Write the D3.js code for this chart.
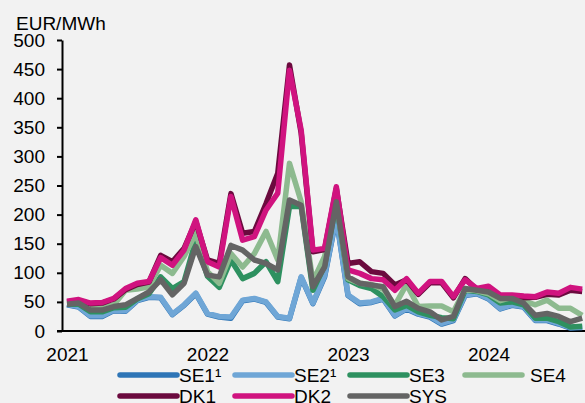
<!DOCTYPE html>
<html>
<head>
<meta charset="utf-8">
<script src="https://cdn.jsdelivr.net/npm/d3@7"></script>
<style>
	body { margin: 0; background: #f2f2f2; }
	svg { display: block; font-family: "Liberation Sans", Arial, sans-serif; }
	.axis text { font-size: 19px; fill: #000; font-family: "Liberation Sans", Arial, sans-serif; }
	.axis path, .axis line { stroke: #000; stroke-width: 2px; }
</style>
</head>
<body>
<div id="chart"></div>
<script>
// monthly averages, Jan 2021 - Sep 2024 (EUR/MWh)
var years = ["2021", "2022", "2023", "2024"];
var yTicks = [0, 50, 100, 150, 200, 250, 300, 350, 400, 450, 500];

var se1 = [45, 41, 25, 25, 35, 34, 52, 58, 57, 28, 44, 64, 29, 24, 22, 52, 55, 49, 24, 21, 92, 47, 93, 194, 61, 47, 49, 55, 26, 38, 29, 24, 12, 18, 61, 64, 55, 38, 44, 41, 18, 18, 12, 5, 6];
var se2 = [46, 42, 26, 26, 36, 35, 53, 59, 58, 29, 45, 65, 30, 25, 24, 53, 56, 50, 25, 22, 93, 48, 95, 196, 62, 48, 50, 56, 27, 39, 30, 25, 13, 19, 62, 65, 56, 39, 45, 42, 19, 19, 13, 6, 7];
var se3 = [46, 46, 33, 33, 40, 41, 55, 64, 93, 73, 85, 156, 94, 75, 122, 90, 99, 119, 85, 214, 214, 70, 112, 220, 88, 78, 73, 59, 36, 44, 33, 27, 23, 21, 70, 68, 62, 48, 50, 45, 22, 22, 16, 7, 8];
var se4 = [48, 50, 38, 40, 45, 70, 72, 76, 113, 99, 128, 168, 102, 82, 133, 110, 133, 171, 122, 288, 222, 85, 128, 225, 90, 82, 80, 72, 44, 80, 42, 43, 43, 33, 72, 69, 64, 52, 58, 52, 45, 53, 39, 39, 27];
var dk1 = [50, 52, 47, 48, 55, 71, 80, 84, 130, 119, 142, 188, 122, 116, 236, 168, 171, 219, 271, 457, 340, 136, 140, 245, 116, 119, 102, 99, 79, 88, 63, 83, 83, 57, 90, 71, 75, 60, 59, 57, 58, 63, 62, 70, 68];
var dk2 = [51, 54, 48, 49, 56, 73, 82, 85, 126, 113, 139, 191, 119, 110, 231, 156, 162, 208, 237, 448, 345, 139, 142, 248, 105, 99, 90, 88, 70, 90, 65, 85, 85, 59, 88, 73, 77, 62, 62, 60, 59, 67, 65, 75, 72];
var sys = [46, 48, 36, 36, 42, 45, 56, 67, 88, 62, 82, 145, 96, 93, 147, 139, 122, 116, 105, 225, 216, 76, 110, 222, 93, 82, 79, 76, 42, 51, 39, 33, 19, 25, 73, 70, 67, 56, 56, 48, 27, 30, 25, 16, 22];

var names = ["SE1\u00b9", "SE2\u00b9", "SE3", "SE4", "DK1", "DK2", "SYS"];
var colors = ["#2e75b6", "#6fa6d6", "#2e9160", "#8dba8f", "#6b0a3e", "#d0137f", "#646464"];
var series = [se1, se2, se3, se4, dk1, dk2, sys];

var width = 585, height = 403;

var svg = d3.select("#chart")
	.append("svg")
	.attr("width", width)
	.attr("height", height);

var x = d3.scaleLinear().domain([0, 44]).range([67, 582.2]);
var y = d3.scaleLinear().domain([0, 500]).range([331, 40]);

// y axis
var yAxis = svg.append("g")
	.attr("class", "axis")
	.attr("transform", "translate(62,0)")
	.call(d3.axisLeft(y).tickValues(yTicks).tickSize(5).tickSizeOuter(0).tickPadding(12));

// x axis
var xAxis = svg.append("g")
	.attr("class", "axis")
	.attr("transform", "translate(0,331)")
	.call(d3.axisBottom(x)
		.tickValues([0, 12, 24, 36])
		.tickFormat(function(d, i) { return years[i]; })
		.tickSize(0)
		.tickPadding(17));
xAxis.select(".domain").attr("d", "M57,0H585");

svg.append("text")
	.attr("x", 16)
	.attr("y", 30)
	.attr("font-size", 19)
	.text("EUR/MWh");

var line = d3.line()
	.x(function(d, i) { return x(i); })
	.y(function(d) { return y(d); });

svg.append("g")
	.selectAll("path")
	.data(series)
	.enter()
	.append("path")
	.attr("d", line)
	.attr("fill", "none")
	.attr("stroke", function(d, i) { return colors[i]; })
	.attr("stroke-width", 5.5)
	.attr("stroke-linejoin", "round");

// legend, 4 columns
var colX = [120, 235, 350, 465];
var legend = svg.append("g")
	.selectAll("g")
	.data(names)
	.enter()
	.append("g")
	.attr("transform", function(d, i) {
		return "translate(" + colX[i % 4] + "," + (375 + Math.floor(i / 4) * 21) + ")";
	});

legend.append("line")
	.attr("x1", 0)
	.attr("x2", 57)
	.attr("stroke", function(d, i) { return colors[i]; })
	.attr("stroke-width", 5.5)
	.attr("stroke-linecap", "round");

legend.append("text")
	.attr("x", function(d) { return d === "SE4" ? 65 : 59; })
	.attr("y", 7)
	.attr("font-size", 19)
	.text(function(d) { return d; });
</script>
</body>
</html>
